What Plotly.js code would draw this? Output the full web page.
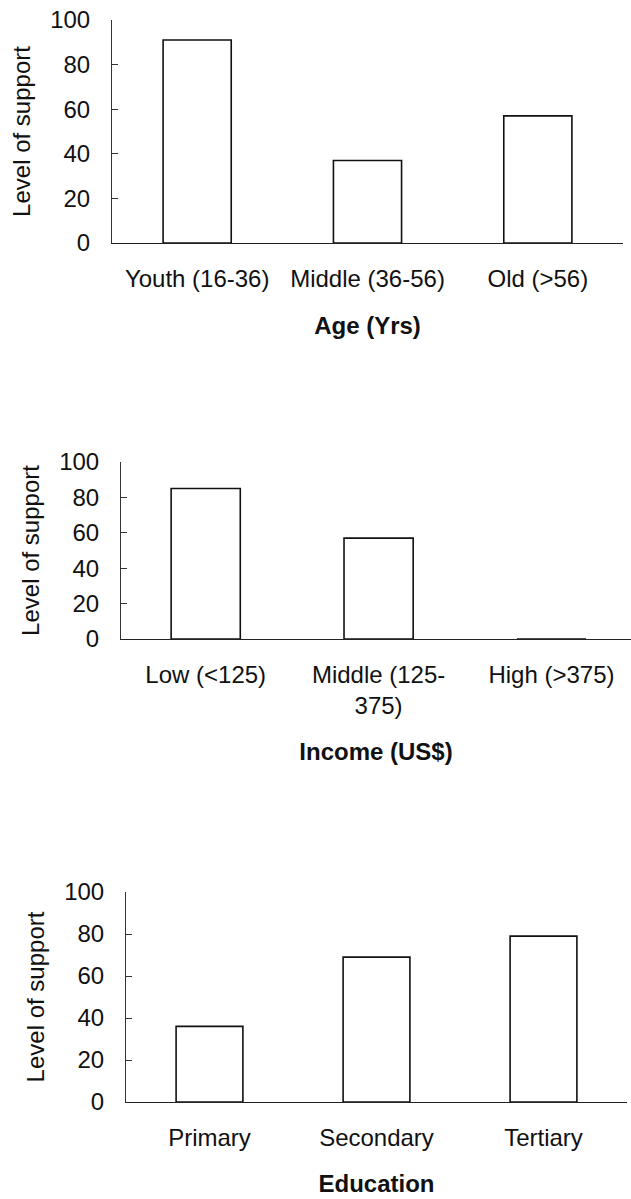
<!DOCTYPE html>
<html>
<head>
<meta charset="utf-8">
<script src="https://cdn.plot.ly/plotly-3.0.1.min.js"></script>
<style>
  html, body { margin: 0; padding: 0; background: #fff; }
  #chart { width: 631px; height: 1199px; }
</style>
</head>
<body>
<div id="chart"></div>
<script>
// ---- Data ----
const ageCategories = ["Youth (16-36)", "Middle (36-56)", "Old (>56)"];
const ageSupport = [91, 37, 57];

const incomeCategories = ["Low (<125)", "Middle (125-<br>375)", "High (>375)"];
const incomeSupport = [85, 57, 0];

const educationCategories = ["Primary", "Secondary", "Tertiary"];
const educationSupport = [36, 69, 79];

const yTickVals = [0, 20, 40, 60, 80, 100];
const yTitle = "Level of support";
const xTitles = ["Age (Yrs)", "Income (US$)", "Education"];

// ---- Style ----
const W = 631, H = 1199;
const FONT = "Liberation Sans, Arial, sans-serif";
const FS = 24;

function barTrace(cats, vals, xa, ya) {
  return {
    type: "bar",
    x: cats,
    y: vals,
    xaxis: xa,
    yaxis: ya,
    width: 0.4,
    marker: { color: "#ffffff", line: { color: "#111111", width: 1.6 } },
    showlegend: false,
    hoverinfo: "x+y"
  };
}

function px2paperY(top, bottom) {
  return [(H - bottom) / H, (H - top) / H];
}

function xAxis(domainPx, range, title, anchor, standoff) {
  return {
    domain: [domainPx[0] / W, domainPx[1] / W],
    range: range,
    anchor: anchor,
    type: "category",
    showline: true,
    linecolor: "#222222",
    linewidth: 1.3,
    ticks: "",
    showgrid: false,
    zeroline: false,
    ticklabelstandoff: 14,
    tickfont: { family: FONT, size: FS, color: "#111111" },
    title: { text: title, standoff: standoff, font: { family: FONT, size: FS, color: "#111111", weight: "bold" } },
    fixedrange: true
  };
}

function yAxis(domainPaper, anchor) {
  return {
    domain: domainPaper,
    range: [0, 100],
    anchor: anchor,
    tickmode: "array",
    tickvals: yTickVals,
    showline: true,
    linecolor: "#333333",
    linewidth: 1,
    ticks: "inside",
    ticklen: 6,
    tickwidth: 1,
    tickcolor: "#333333",
    showgrid: false,
    zeroline: false,
    ticklabelstandoff: 16,
    tickfont: { family: FONT, size: FS, color: "#111111" },
    title: { text: yTitle, standoff: 12, font: { family: FONT, size: FS, color: "#111111" } },
    fixedrange: true
  };
}

const data = [
  barTrace(ageCategories, ageSupport, "x", "y"),
  barTrace(incomeCategories, incomeSupport, "x2", "y2"),
  barTrace(educationCategories, educationSupport, "x3", "y3")
];

const layout = {
  width: W,
  height: H,
  margin: { l: 0, r: 0, t: 0, b: 0 },
  paper_bgcolor: "#ffffff",
  plot_bgcolor: "#ffffff",
  font: { family: FONT, size: FS, color: "#111111" },
  showlegend: false,
  xaxis:  xAxis([112, 623], [-0.5, 2.5], xTitles[0], "y", 26),
  yaxis:  yAxis(px2paperY(20, 243), "x"),
  xaxis2: xAxis([121, 631], [-0.49, 2.46], xTitles[1], "y2", 25),
  yaxis2: yAxis(px2paperY(462, 639), "x2"),
  xaxis3: xAxis([126, 627], [-0.5, 2.5], xTitles[2], "y3", 25),
  yaxis3: yAxis(px2paperY(892, 1102), "x3")
};

Plotly.newPlot("chart", data, layout, { displayModeBar: false, staticPlot: true });
</script>
</body>
</html>
